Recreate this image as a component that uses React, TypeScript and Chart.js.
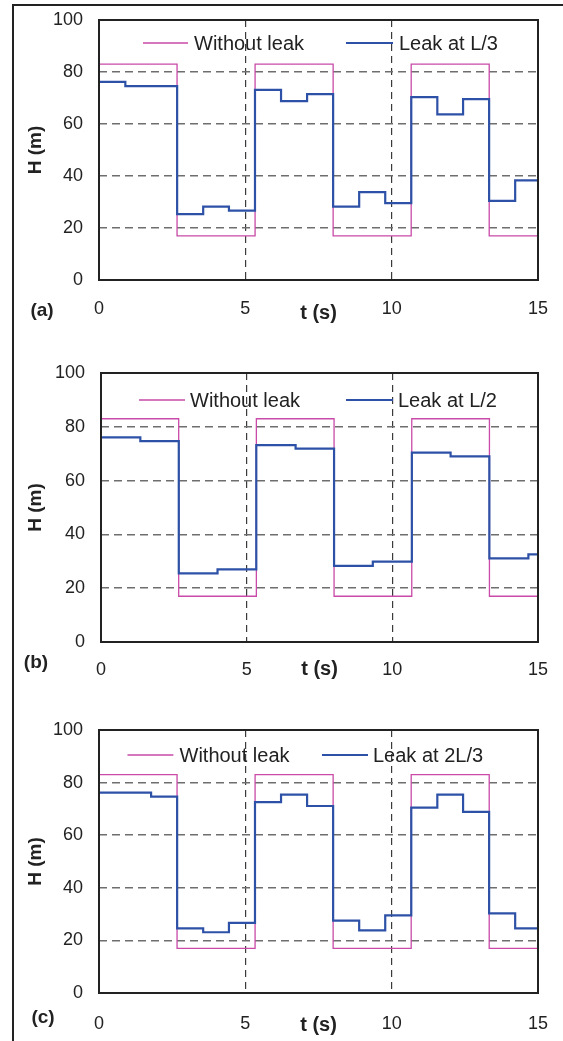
import React, { useEffect, useRef } from 'react';
import { Chart, registerables } from 'chart.js';

Chart.register(...registerables);

const FONT = "'Liberation Sans', Arial, Helvetica, sans-serif";

// Without leak (same for all panels)
const timeWithout = [0, 2.667, 5.333, 8.0, 10.667, 13.333, 15];
const headWithout = [83, 17, 83, 17, 83, 17, 17];

// Leak at L/3
const timeLeakA = [0, 0.9, 2.67, 3.56, 4.44, 5.33, 6.22, 7.11, 8.0, 8.89, 9.78, 10.67, 11.56, 12.44, 13.33, 14.22, 15];
const headLeakA = [76.2, 74.6, 25.3, 28.2, 26.7, 73.1, 68.8, 71.5, 28.2, 33.8, 29.6, 70.3, 63.7, 69.6, 30.4, 38.3, 38.3];

// Leak at L/2
const timeLeakB = [0, 1.35, 2.67, 4.0, 5.33, 6.68, 8.0, 9.33, 10.67, 12.0, 13.33, 14.67, 15];
const headLeakB = [76.1, 74.7, 25.5, 27.0, 73.2, 71.9, 28.3, 29.9, 70.4, 69.0, 31.1, 32.6, 32.6];

// Leak at 2L/3
const timeLeakC = [0, 1.78, 2.67, 3.56, 4.44, 5.33, 6.22, 7.11, 8.0, 8.89, 9.78, 10.67, 11.56, 12.44, 13.33, 14.22, 15];
const headLeakC = [76.2, 74.7, 24.6, 23.1, 26.7, 72.6, 75.4, 71.1, 27.5, 23.8, 29.5, 70.5, 75.4, 68.9, 30.3, 24.6, 24.6];

const xTickValues = [0, 5, 10, 15];
const yTickValues = [0, 20, 40, 60, 80, 100];
const xGridValues = [5, 10];
const yGridValues = [20, 40, 60, 80];

const legendWithout = 'Without leak';
const xTitle = 't (s)';
const yTitle = 'H (m)';

const MAGENTA = '#c94aa8';
const BLUE = '#2d51a6';
const INK = '#222222';

interface PanelSpec {
  top: number;
  height: number;
  yAxisWidth: number;
  xAxisHeight: number;
  padTop: number;
  tickPadX: number;
  titlePadX: number;
  tag: string;
  tagX: number;
  tagY: number;
  leakLabel: string;
  leakT: number[];
  leakH: number[];
  legDy: number;
  leg1: [number, number, number];
  leg2: [number, number, number];
}

const panels: PanelSpec[] = [
  {
    top: 0, height: 340, yAxisWidth: 99, xAxisHeight: 60, padTop: 20, tickPadX: 18, titlePadX: 15,
    tag: '(a)', tagX: 42, tagY: 311, leakLabel: 'Leak at L/3', leakT: timeLeakA, leakH: headLeakA,
    legDy: 23, leg1: [44, 89, 95], leg2: [247, 294, 300],
  },
  {
    top: 340, height: 350, yAxisWidth: 101, xAxisHeight: 48, padTop: 33, tickPadX: 17, titlePadX: 9,
    tag: '(b)', tagX: 36, tagY: 323, leakLabel: 'Leak at L/2', leakT: timeLeakB, leakH: headLeakB,
    legDy: 27, leg1: [38, 84, 89], leg2: [245, 292, 297],
  },
  {
    top: 690, height: 351, yAxisWidth: 99, xAxisHeight: 48, padTop: 40, tickPadX: 20, titlePadX: 4,
    tag: '(c)', tagX: 43, tagY: 328, leakLabel: 'Leak at 2L/3', leakT: timeLeakC, leakH: headLeakC,
    legDy: 25, leg1: [28.5, 74.4, 80.5], leg2: [223, 269, 274],
  },
];

function toPoints(t: number[], h: number[]) {
  return t.map((x, i) => ({ x, y: h[i] }));
}

function Panel({ spec }: { spec: PanelSpec }) {
  const ref = useRef<HTMLCanvasElement | null>(null);

  useEffect(() => {
    if (!ref.current) return;

    const decor = {
      id: 'decor',
      afterDatasetsDraw(chart: any) {
        const { ctx, chartArea } = chart;
        ctx.save();
        // frame
        ctx.strokeStyle = INK;
        ctx.lineWidth = 2;
        ctx.setLineDash([]);
        ctx.strokeRect(chartArea.left, chartArea.top, chartArea.right - chartArea.left, chartArea.bottom - chartArea.top);
        // legend
        const ly = chartArea.top + spec.legDy;
        const lx = chartArea.left;
        ctx.lineWidth = 1.3;
        ctx.strokeStyle = MAGENTA;
        ctx.beginPath();
        ctx.moveTo(lx + spec.leg1[0], ly);
        ctx.lineTo(lx + spec.leg1[1], ly);
        ctx.stroke();
        ctx.lineWidth = 2.2;
        ctx.strokeStyle = BLUE;
        ctx.beginPath();
        ctx.moveTo(lx + spec.leg2[0], ly);
        ctx.lineTo(lx + spec.leg2[1], ly);
        ctx.stroke();
        ctx.fillStyle = INK;
        ctx.font = `20px ${FONT}`;
        ctx.textAlign = 'left';
        ctx.textBaseline = 'middle';
        ctx.fillText(legendWithout, lx + spec.leg1[2], ly + 1);
        ctx.fillText(spec.leakLabel, lx + spec.leg2[2], ly + 1);
        // panel tag
        ctx.font = `bold 19px ${FONT}`;
        ctx.textAlign = 'center';
        ctx.fillText(spec.tag, spec.tagX, spec.tagY);
        ctx.restore();
      },
    };

    const chart = new Chart(ref.current, {
      type: 'line',
      data: {
        datasets: [
          {
            label: spec.leakLabel,
            data: toPoints(spec.leakT, spec.leakH),
            borderColor: BLUE,
            borderWidth: 2.2,
            pointRadius: 0,
            stepped: true,
            fill: false,
          },
          {
            label: legendWithout,
            data: toPoints(timeWithout, headWithout),
            borderColor: MAGENTA,
            borderWidth: 1.3,
            pointRadius: 0,
            stepped: true,
            fill: false,
          },
        ],
      },
      options: {
        animation: false,
        responsive: false,
        events: [],
        layout: { padding: { left: 0, right: 25, top: spec.padTop, bottom: 0 } },
        plugins: { legend: { display: false }, tooltip: { enabled: false } },
        scales: {
          x: {
            type: 'linear',
            min: 0,
            max: 15,
            afterBuildTicks: (scale: any) => {
              scale.ticks = xTickValues.map((v) => ({ value: v }));
            },
            afterFit: (scale: any) => {
              scale.height = spec.xAxisHeight;
              scale.paddingLeft = 0;
              scale.paddingRight = 0;
            },
            ticks: {
              padding: spec.tickPadX,
              maxRotation: 0,
              color: INK,
              font: { family: FONT, size: 18 },
            },
            grid: {
              drawTicks: false,
              lineWidth: 1.2,
              color: (c: any) => (c.tick && xGridValues.includes(c.tick.value) ? '#3a3a3a' : 'rgba(0,0,0,0)'),
            },
            border: { display: false, dash: [7, 5] },
            title: {
              display: true,
              text: xTitle,
              color: INK,
              font: { family: FONT, size: 20, weight: 'bold' },
              padding: { top: 0, bottom: spec.titlePadX },
            },
          },
          y: {
            type: 'linear',
            min: 0,
            max: 100,
            afterBuildTicks: (scale: any) => {
              scale.ticks = yTickValues.map((v) => ({ value: v }));
            },
            afterFit: (scale: any) => {
              scale.width = spec.yAxisWidth;
              scale.paddingTop = 0;
              scale.paddingBottom = 0;
            },
            ticks: {
              padding: 16,
              color: INK,
              font: { family: FONT, size: 18 },
            },
            grid: {
              drawTicks: false,
              lineWidth: 1.5,
              color: (c: any) => (c.tick && yGridValues.includes(c.tick.value) ? '#6e6e6e' : 'rgba(0,0,0,0)'),
            },
            border: { display: false, dash: [8, 5] },
            title: {
              display: true,
              text: yTitle,
              color: INK,
              font: { family: FONT, size: 19, weight: 'bold' },
              padding: { top: 24.6, bottom: 0 },
            },
          },
        },
      } as any,
      plugins: [decor],
    });

    return () => chart.destroy();
  }, [spec]);

  return (
    <canvas
      ref={ref}
      width={563}
      height={spec.height}
      style={{ position: 'absolute', left: 0, top: spec.top, width: 563, height: spec.height, display: 'block' }}
    />
  );
}

export default function App() {
  return (
    <div style={{ position: 'absolute', left: 0, top: 0, width: 563, height: 1041, background: '#fff', overflow: 'hidden' }}>
      <div
        style={{
          position: 'absolute',
          left: 12,
          top: 3.5,
          width: 563,
          height: 1041,
          borderLeft: `2px solid ${INK}`,
          borderTop: `2px solid ${INK}`,
          boxSizing: 'border-box',
        }}
      />
      {panels.map((p) => (
        <Panel key={p.tag} spec={p} />
      ))}
    </div>
  );
}
